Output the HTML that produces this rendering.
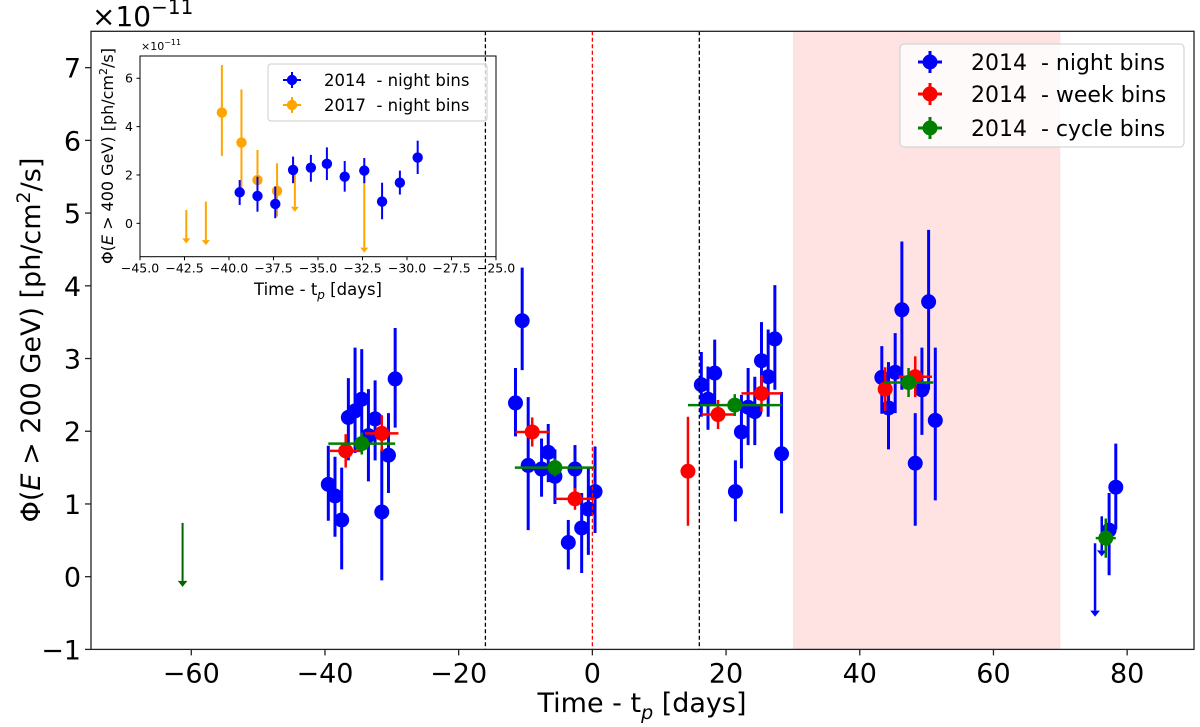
<!DOCTYPE html>
<html><head><meta charset="utf-8"><style>
html,body{margin:0;padding:0;background:#fff;}
svg{display:block;font-family:"DejaVu Sans","Liberation Sans",sans-serif;}
</style></head><body>
<svg id="chart" width="1200" height="727" viewBox="0 0 1200 727" xmlns="http://www.w3.org/2000/svg">
<g id="root"></g>
<g>
<text x="92" y="26" font-size="28">×10<tspan dy="-12" font-size="20">−11</tspan></text>
<text x="642" y="712" font-size="27" text-anchor="middle">Time - t<tspan dy="7" font-size="19" font-style="italic">p</tspan><tspan dy="-7"> [days]</tspan></text>
<text transform="translate(40,340) rotate(-90)" font-size="27" text-anchor="middle">Φ(<tspan font-style="italic">E</tspan> &gt; 200 GeV) [ph/cm<tspan dy="-10" font-size="19">2</tspan><tspan dy="10">/s]</tspan></text>
<text x="141" y="50" font-size="11">×10<tspan dy="-5" font-size="8">−11</tspan></text>
<text x="318" y="295" font-size="16.5" text-anchor="middle">Time - t<tspan dy="4" font-size="12" font-style="italic">p</tspan><tspan dy="-4"> [days]</tspan></text>
<text transform="translate(113,156) rotate(-90)" font-size="16" text-anchor="middle">Φ(<tspan font-style="italic">E</tspan> &gt; 400 GeV) [ph/cm<tspan dy="-6" font-size="11">2</tspan><tspan dy="6">/s]</tspan></text>
</g>
<g>
<rect x="900" y="44" width="284" height="103" rx="4" fill="#fff" fill-opacity="0.8" stroke="#ccc"/>
<g><line x1="930" x2="930" y1="51" y2="73" stroke="#0000ff" stroke-width="3"/><line x1="918" x2="942" y1="62" y2="62" stroke="#0000ff" stroke-width="3"/><circle cx="930" cy="62" r="7.5" fill="#0000ff"/><text x="971" y="70" font-size="22" xml:space="preserve">2014  - night bins</text></g>
<g><line x1="930" x2="930" y1="83" y2="105" stroke="#ff0000" stroke-width="3"/><line x1="918" x2="942" y1="94" y2="94" stroke="#ff0000" stroke-width="3"/><circle cx="930" cy="94" r="7.5" fill="#ff0000"/><text x="971" y="102" font-size="22" xml:space="preserve">2014  - week bins</text></g>
<g><line x1="930" x2="930" y1="117" y2="139" stroke="#008000" stroke-width="3"/><line x1="918" x2="942" y1="128" y2="128" stroke="#008000" stroke-width="3"/><circle cx="930" cy="128" r="7.5" fill="#008000"/><text x="971" y="136" font-size="22" xml:space="preserve">2014  - cycle bins</text></g>
</g>
<g>
<rect x="268" y="64" width="219" height="57" rx="3" fill="#fff" fill-opacity="0.8" stroke="#ccc"/>
<g><line x1="292" x2="292" y1="72" y2="88" stroke="#0000ff" stroke-width="2"/><line x1="283" x2="301" y1="80" y2="80" stroke="#0000ff" stroke-width="2"/><circle cx="292" cy="80" r="5.2" fill="#0000ff"/><text x="324" y="86" font-size="16.5" xml:space="preserve">2014  - night bins</text></g>
<g><line x1="292" x2="292" y1="97" y2="113" stroke="#ffa500" stroke-width="2"/><line x1="283" x2="301" y1="105" y2="105" stroke="#ffa500" stroke-width="2"/><circle cx="292" cy="105" r="5.2" fill="#ffa500"/><text x="324" y="111" font-size="16.5" xml:space="preserve">2017  - night bins</text></g>
</g>
</svg>
<script>
const nightT = [-39.5,-38.5,-37.5,-36.5,-35.5,-34.5,-33.5,-32.5,-31.5,-30.5,-29.5,
  -11.5,-10.5,-9.6,-7.6,-6.6,-5.6,-2.6,-3.6,-1.6,-0.6,0.4,
  16.3,17.3,18.3,21.4,22.3,23.3,24.3,25.3,26.3,27.3,28.3,
  43.3,44.3,45.3,46.3,48.3,49.3,50.3,51.3,
  78.3,77.3];
const nightF = [1.27,1.11,0.78,2.19,2.28,2.44,1.94,2.17,0.89,1.67,2.72,
  2.39,3.52,1.53,1.48,1.71,1.38,1.48,0.47,0.67,0.93,1.17,
  2.64,2.44,2.80,1.17,1.99,2.33,2.27,2.97,2.75,3.27,1.69,
  2.74,2.32,2.81,3.67,1.56,2.57,3.78,2.15,
  1.23,0.64];
const nightLo = [0.77,0.55,0.10,1.60,1.70,1.75,1.31,1.60,-0.05,1.15,2.05,
  1.93,2.84,0.64,1.10,1.30,1.00,1.08,0.10,0.05,0.30,0.60,
  2.20,2.02,2.35,0.76,1.49,1.81,1.81,2.45,2.20,2.57,0.87,
  2.24,1.75,2.25,2.57,0.70,1.95,2.57,1.05,
  0.65,0.02];
const nightHi = [1.80,1.65,1.50,2.73,3.15,3.13,2.58,2.70,1.75,2.25,3.42,
  2.87,4.25,2.47,1.90,2.10,1.75,1.81,0.78,1.15,1.50,1.79,
  3.09,2.89,3.26,1.60,2.50,2.87,2.75,3.50,3.40,4.01,2.54,
  3.17,2.95,3.35,4.61,2.25,3.15,4.77,3.15,
  1.83,1.15];
const weekT = [-36.9,-31.5,-9.0,-2.6,14.3,18.8,25.3,43.8,48.3];
const weekF = [1.73,1.97,1.99,1.07,1.45,2.23,2.52,2.58,2.75];
const weekYErr = [0.23,0.25,0.20,0.15,0.75,0.20,0.25,0.30,0.28];
const weekXErr = [2.5,2.5,2.5,3,0,2.5,3,0,2.5];
const cycleT = [-34.5,-5.6,21.3,47.3,76.8];
const cycleF = [1.83,1.50,2.36,2.67,0.53];
const cycleYErr = [0.15,0.12,0.15,0.20,0.27];
const cycleXErr = [5,6,7,3.7,1.5];
const ulBlueT = [76.2,75.2];
const ulBlueTop = [0.83,0.46];
const ulBlueBot = [0.28,-0.55];
const ulGreenT = [-61.3];
const ulGreenTop = [0.74];
const ulGreenBot = [-0.14];
const xTicks = [-60,-40,-20,0,20,40,60,80];
const yTicks = [-1,0,1,2,3,4,5,6,7];
const inBlueT = [-39.4,-38.4,-37.4,-36.4,-35.4,-34.5,-33.5,-32.4,-31.4,-30.4,-29.4];
const inBlueF = [1.28,1.13,0.80,2.21,2.30,2.46,1.93,2.18,0.90,1.68,2.72];
const inBlueLo = [0.76,0.48,0.21,1.66,1.72,1.79,1.31,1.66,0.17,1.19,2.04];
const inBlueHi = [1.79,1.93,1.52,2.76,2.83,3.14,2.58,2.70,1.68,2.18,3.42];
const inOrT = [-40.4,-39.3,-38.4,-37.3];
const inOrF = [4.58,3.34,1.79,1.34];
const inOrLo = [2.79,1.30,0.60,0.28];
const inOrHi = [6.55,5.54,3.03,2.48];
const inUlT = [-42.4,-41.3,-36.3,-32.4];
const inUlTop = [0.55,0.90,2.07,1.93];
const inUlBot = [-0.83,-0.90,0.48,-1.21];
const inXTicks = [-45,-42.5,-40,-37.5,-35,-32.5,-30,-27.5,-25];
const inYTicks = [0,2,4,6];

const NS="http://www.w3.org/2000/svg";
const root=document.getElementById('root');
function mk(tag,attrs,parent){const e=document.createElementNS(NS,tag);for(const k in attrs)e.setAttribute(k,attrs[k]);(parent||root).appendChild(e);return e;}
const PL=91,PR=1194,PT=31.3,PB=649.4,XMIN=-75,XMAX=90,YMIN=-1,YMAX=7.5;
const X=v=>PL+(v-XMIN)/(XMAX-XMIN)*(PR-PL);
const Y=v=>PB-(v-YMIN)/(YMAX-YMIN)*(PB-PT);
const IL=140,IR=496,IT=56,IB=256.7,IXMIN=-45,IXMAX=-25,IYMIN=-1.38,IYMAX=6.92;
const IX=v=>IL+(v-IXMIN)/(IXMAX-IXMIN)*(IR-IL);
const IY=v=>IB-(v-IYMIN)/(IYMAX-IYMIN)*(IB-IT);

let e;
e=mk('rect',{x:X(30),y:PT,width:X(70)-X(30),height:PB-PT,fill:'#ffe3e3'});



function errPoint(g,cx,cy,ylo,yhi,xl,xr,color,r,lw){
  mk('line',{x1:cx,x2:cx,y1:ylo,y2:yhi,stroke:color,'stroke-width':lw},g);
  if(xr-xl>0.5) mk('line',{x1:xl,x2:xr,y1:cy,y2:cy,stroke:color,'stroke-width':lw},g);
  mk('circle',{cx:cx,cy:cy,r:r,fill:color},g);
}
function ul(g,cx,yt,yb,color,lw,ah){
  mk('line',{x1:cx,x2:cx,y1:yt,y2:yb-ah,stroke:color,'stroke-width':lw},g);
  mk('polygon',{points:`${cx-ah*0.8},${yb-ah} ${cx+ah*0.8},${yb-ah} ${cx},${yb}`,fill:color},g);
}
const gN=mk('g',{});


nightT.forEach((t,i)=>errPoint(gN,X(t),Y(nightF[i]),Y(nightLo[i]),Y(nightHi[i]),0,0,'#0000ff',7.5,3));
ulBlueT.forEach((t,i)=>ul(gN,X(t),Y(ulBlueTop[i]),Y(ulBlueBot[i]),'#0000ff',2.5,6));
const gW=mk('g',{});


weekT.forEach((t,i)=>errPoint(gW,X(t),Y(weekF[i]),Y(weekF[i]-weekYErr[i]),Y(weekF[i]+weekYErr[i]),X(t-weekXErr[i]),X(t+weekXErr[i]),'#ff0000',7.5,2.5));
const gC=mk('g',{});


cycleT.forEach((t,i)=>errPoint(gC,X(t),Y(cycleF[i]),Y(cycleF[i]-cycleYErr[i]),Y(cycleF[i]+cycleYErr[i]),X(t-cycleXErr[i]),X(t+cycleXErr[i]),'#008000',7.5,2.5));
ulGreenT.forEach((t,i)=>ul(gC,X(t),Y(ulGreenTop[i]),Y(ulGreenBot[i]),'#006400',2,6));

const gI=mk('g',{});


mk('rect',{x:IL,y:IT,width:IR-IL,height:IB-IT,fill:'#fff',stroke:'none'},gI);
const gIO=mk('g',{},gI);


const gIB=mk('g',{},gI);


inOrT.forEach((t,i)=>errPoint(gIO,IX(t),IY(inOrF[i]),IY(inOrLo[i]),IY(inOrHi[i]),0,0,'#ffa500',5.2,2));
inUlT.forEach((t,i)=>ul(gIO,IX(t),IY(inUlTop[i]),IY(inUlBot[i]),'#ffa500',2,5));
inBlueT.forEach((t,i)=>errPoint(gIB,IX(t),IY(inBlueF[i]),IY(inBlueLo[i]),IY(inBlueHi[i]),0,0,'#0000ff',5.2,2));
mk('rect',{x:IL,y:IT,width:IR-IL,height:IB-IT,fill:'none',stroke:'#000','stroke-width':1},gI);
inXTicks.forEach(v=>{mk('line',{x1:IX(v),x2:IX(v),y1:IB,y2:IB+3.5,stroke:'#000'},gI);
  const t=mk('text',{x:IX(v),y:IB+16,'font-size':12.5,'text-anchor':'middle'},gI);t.textContent=(v<0?'\u2212':'')+Math.abs(v).toFixed(1);});
inYTicks.forEach(v=>{mk('line',{x1:IL-3.5,x2:IL,y1:IY(v),y2:IY(v),stroke:'#000'},gI);
  const t=mk('text',{x:IL-7,y:IY(v)+4.5,'font-size':12.5,'text-anchor':'end'},gI);t.textContent=v;});

[[-16,'#000'],[16,'#000'],[0,'#ff0000']].forEach(([v,c])=>{
  const l=mk('line',{x1:X(v),x2:X(v),y1:PT,y2:PB,stroke:c,'stroke-width':1.3,'stroke-dasharray':'4,2.5'});
  
  
});

mk('rect',{x:PL,y:PT,width:PR-PL,height:PB-PT,fill:'none',stroke:'#222','stroke-width':1.3});
const gX=mk('g',{});


xTicks.forEach(v=>{mk('line',{x1:X(v),x2:X(v),y1:PB,y2:PB+6,stroke:'#222','stroke-width':1.3},gX);
  const t=mk('text',{x:X(v),y:PB+33,'font-size':27,'text-anchor':'middle'},gX);t.textContent=(v<0?'\u2212':'')+Math.abs(v);});
const gY=mk('g',{});


yTicks.forEach(v=>{mk('line',{x1:PL-6,x2:PL,y1:Y(v),y2:Y(v),stroke:'#222','stroke-width':1.3},gY);
  const t=mk('text',{x:PL-10,y:Y(v)+10,'font-size':27,'text-anchor':'end'},gY);t.textContent=(v<0?'\u2212':'')+Math.abs(v);});
</script>
</body></html>
